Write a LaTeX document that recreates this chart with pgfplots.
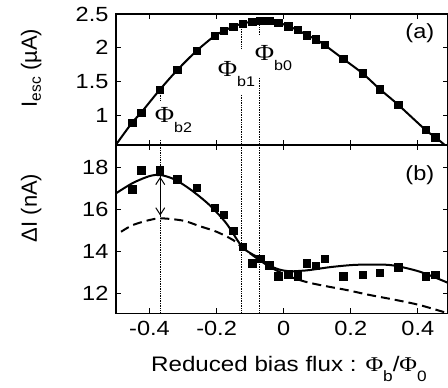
\documentclass[border=0pt]{standalone}
\usepackage{fontspec}
\setmainfont{Liberation Sans}[FakeStretch=1.15]
\newfontfamily\ylfont{Liberation Sans}
\newfontfamily\phifont{Liberation Serif}[FakeStretch=1.15]
\usepackage{pgfplots}
\pgfplotsset{compat=1.18}
\usetikzlibrary{arrows.meta}
\newcommand{\Phb}[1]{{\phifont\fontsize{23}{27}\selectfont Φ}\raisebox{-10pt}{\fontsize{14}{17}\selectfont #1}}
\tikzset{dotv/.style={densely dotted, line width=0.7pt, black}}
\pgfplotsset{
  common/.style={
    scale only axis, width=332pt,
    xmin=-0.5, xmax=0.49,
    xtick={-0.4,-0.2,0,0.2,0.4},
    tick align=inside, xtick pos=both, ytick pos=both,
    major tick length=5pt,
    axis line style={line width=1.1pt},
    every tick/.style={line width=1pt, black},
    /pgf/number format/assume math mode=true,
    tick label style={font=\fontsize{20.5}{24}\selectfont},
    xticklabel style={yshift=-4pt},
    yticklabel style={xshift=-4pt},
  },
  pts/.style={only marks, mark=square*, mark size=3.7pt, black},
}
\begin{document}
\begin{tikzpicture}
\path[use as bounding box] (-116pt,14pt) rectangle (332pt,-374pt);
\begin{axis}[common, name=top, at={(0,0)}, anchor=north west,
  height=131pt, ymin=0.555, ymax=2.5,
  ytick={1,1.5,2,2.5}, yticklabels={1,1.5,2,2.5}, xticklabels={},
  ylabel={{\ylfont\fontsize{22}{26}\selectfont I\raisebox{-4pt}{\fontsize{15.5}{18}\selectfont esc} (µA)}},
  ylabel style={at={(axis description cs:-0.238,0.588)}, anchor=base},
]
\addplot[black, line width=2pt, smooth, tension=0.5] coordinates {
(-0.5,0.56) (-0.452,0.887) (-0.425,1.036) (-0.370,1.372) (-0.317,1.669) (-0.260,1.951)
(-0.206,2.174) (-0.178,2.248) (-0.151,2.312) (-0.123,2.358) (-0.094,2.386) (-0.070,2.400)
(-0.043,2.397) (-0.016,2.375) (0.013,2.320) (0.041,2.263) (0.069,2.188) (0.095,2.125)
(0.122,2.040) (0.178,1.832) (0.235,1.620) (0.287,1.383) (0.342,1.150) (0.423,0.779)
(0.452,0.672) (0.49,0.515)};
\addplot[pts] coordinates {
(-0.452,0.887) (-0.425,1.036) (-0.370,1.372) (-0.317,1.669) (-0.260,1.951)
(-0.206,2.174) (-0.178,2.248) (-0.151,2.312) (-0.123,2.358) (-0.094,2.386) (-0.070,2.400)
(-0.043,2.397) (-0.016,2.375) (0.013,2.320) (0.041,2.263) (0.069,2.188) (0.095,2.125)
(0.122,2.040) (0.178,1.832) (0.235,1.620) (0.287,1.383) (0.342,1.150) (0.423,0.779)
(0.452,0.672)};
\draw[dotv] (axis cs:-0.368,1.33) -- (axis cs:-0.368,1.224);
\draw[dotv] (axis cs:-0.368,0.63) -- (axis cs:-0.368,0.555);
\draw[dotv] (axis cs:-0.126,2.33) -- (axis cs:-0.126,1.996);
\draw[dotv] (axis cs:-0.126,1.298) -- (axis cs:-0.126,0.555);
\draw[dotv] (axis cs:-0.072,2.38) -- (axis cs:-0.072,2.19);
\draw[dotv] (axis cs:-0.072,1.55) -- (axis cs:-0.072,0.555);
\node[anchor=base west, inner sep=0] at (axis cs:-0.0866,1.817) {\Phb{b0}};
\node[anchor=base west, inner sep=0] at (axis cs:-0.197,1.565) {\Phb{b1}};
\node[anchor=base west, inner sep=0] at (axis cs:-0.385,0.883) {\Phb{b2}};
\node[font=\fontsize{20.5}{24}\selectfont] at (axis cs:0.406,2.21) {(a)};
\end{axis}
\begin{axis}[common, name=bot, at={(top.south west)}, anchor=north west,
  height=168.3pt, ymin=11.05, ymax=19.06,
  ytick={12,14,16,18}, yticklabels={12,14,16,18},
  xticklabels={-0.4,-0.2,0,0.2,0.4},
  ylabel={{\ylfont\fontsize{22}{26}\selectfont ΔI (nA)}},
  ylabel style={at={(axis description cs:-0.238,0.626)}, anchor=base},
  xlabel={\fontsize{21}{25}\selectfont Reduced bias flux : {\phifont Φ}\raisebox{-10pt}{\fontsize{15}{18}\selectfont b}/{\phifont Φ}\raisebox{-10pt}{\fontsize{15}{18}\selectfont 0}},
  xlabel style={at={(axis description cs:0.521,-0.347)}, anchor=base},
]
\draw[dotv] (axis cs:-0.368,19.06) -- (axis cs:-0.368,11.05);
\draw[dotv] (axis cs:-0.126,19.06) -- (axis cs:-0.126,11.05);
\draw[dotv] (axis cs:-0.072,19.06) -- (axis cs:-0.072,11.05);
\addplot[black, line width=2pt, smooth, tension=0.5] coordinates {
(-0.5,16.76) (-0.45,17.25) (-0.4,17.58) (-0.367,17.63) (-0.325,17.42) (-0.276,16.92)
(-0.221,16.2) (-0.171,15.33) (-0.126,14.25) (-0.1,13.92) (-0.072,13.67) (-0.042,13.32)
(-0.01,13.12) (0.02,13.05) (0.05,13.07) (0.078,13.11) (0.14,13.25) (0.207,13.35)
(0.27,13.37) (0.326,13.33) (0.406,13.03) (0.49,12.5)};
\addplot[black, line width=2pt, smooth, tension=0.5, dash pattern=on 9pt off 5pt] coordinates {
(-0.485,14.93) (-0.45,15.25) (-0.4,15.49) (-0.365,15.57) (-0.3,15.46) (-0.251,15.2)
(-0.2,14.93) (-0.151,14.54) (-0.126,14.22) (-0.1,13.9) (-0.072,13.58) (-0.04,13.25)
(0,12.92) (0.033,12.71) (0.07,12.53) (0.107,12.40) (0.15,12.27) (0.187,12.16)
(0.257,11.92) (0.336,11.68) (0.406,11.44) (0.49,11.05)};
\addplot[pts] coordinates {
(-0.452,16.95) (-0.425,17.87) (-0.370,17.87) (-0.317,17.43) (-0.260,17.03) (-0.206,16.08)
(-0.178,15.73) (-0.151,14.98) (-0.123,14.22) (-0.094,13.43) (-0.070,13.65) (-0.043,13.33)
(-0.016,12.82) (0.013,12.92) (0.041,12.82) (0.069,13.43) (0.095,13.31) (0.122,13.65)
(0.178,12.82) (0.235,12.90) (0.287,12.98) (0.342,13.25) (0.423,12.82) (0.452,12.90)};
\draw[{Straight Barb[length=7pt,width=9pt]}-{Straight Barb[length=7pt,width=9pt]}, line width=1pt]
  (axis cs:-0.368,17.55) -- (axis cs:-0.368,15.7);
\node[font=\fontsize{20.5}{24}\selectfont] at (axis cs:0.406,17.63) {(b)};
\end{axis}
\end{tikzpicture}
\end{document}
